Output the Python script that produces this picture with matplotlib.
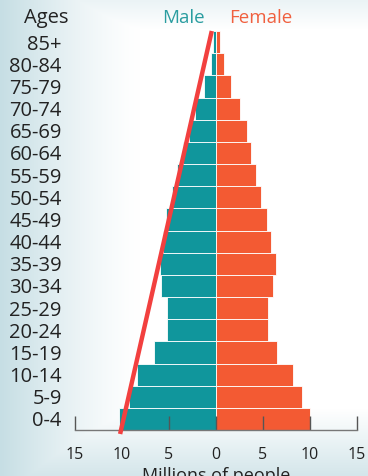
import numpy as np
import matplotlib
matplotlib.use('Agg')
import matplotlib.pyplot as plt

# data
ages = ['0-4', '5-9', '10-14', '15-19', '20-24', '25-29', '30-34', '35-39',
        '40-44', '45-49', '50-54', '55-59', '60-64', '65-69', '70-74',
        '75-79', '80-84', '85+']
male = [10.3, 9.3, 8.4, 6.6, 5.25, 5.25, 5.8, 6.0, 5.6, 5.3, 4.7, 4.2,
        3.5, 2.9, 2.2, 1.3, 0.56, 0.3]
female = [10.0, 9.15, 8.2, 6.5, 5.5, 5.5, 6.05, 6.35, 5.9, 5.45, 4.8, 4.25,
          3.7, 3.3, 2.5, 1.6, 0.8, 0.45]
ticks = [-15, -10, -5, 0, 5, 10, 15]
tick_labels = ['15', '10', '5', '0', '5', '10', '15']
# trend line drawn over the male side (x in millions, y in age rows)
trend_x = [-10.2, -0.45]
trend_y = [-0.68, 17.5]

teal = '#10969c'
orange = '#f35a33'
font = ['Open Sans', 'DejaVu Sans']
plt.rcParams['font.family'] = font

W, H = 368, 476
fig = plt.figure(figsize=(W / 100, H / 100), dpi=100)

# background gradient (light blue-grey on the left and bottom, white centre)
bg = fig.add_axes([0, 0, 1, 1])
xx, yy = np.meshgrid(np.linspace(0, 1, W), np.linspace(0, 1, H))
a = np.clip(1 - xx / 0.38, 0, 1) ** 1.3
a = np.maximum(a, np.clip((yy - 0.86) / 0.14, 0, 1) * 0.75)
a = np.maximum(a, np.clip(1 - yy / 0.06, 0, 1) * 0.35)
tint = np.array([198, 222, 228]) / 255.0
img = 1 - a[..., None] * (1 - tint)
bg.imshow(img, aspect='auto', extent=[0, 1, 1, 0])
bg.axis('off')

ax = fig.add_axes([75 / W, 1 - 430 / H, (357 - 75) / W, (430 - 31) / H])
ax.patch.set_alpha(0)
y = np.arange(len(ages))
ax.barh(y, [-m for m in male], height=1.0, color=teal, edgecolor='white', linewidth=0.6)
ax.barh(y, female, height=1.0, color=orange, edgecolor='white', linewidth=0.6)

ax.plot(trend_x, trend_y, color='#f2403f', lw=3.2, solid_capstyle='butt', clip_on=False, zorder=5)

ax.set_xlim(-15, 15)
ax.set_ylim(-0.5, 17.5)
for s in ['top', 'right', 'left']:
    ax.spines[s].set_visible(False)
ax.spines['bottom'].set_color('#777777')
ax.spines['bottom'].set_linewidth(1.0)
ax.set_xticks(ticks)
ax.set_xticklabels(tick_labels, fontsize=11.5, color='#222222')
ax.tick_params(axis='x', direction='in', length=10, width=1, color='#555555', pad=12)
ax.set_yticks(y)
ax.set_yticklabels(ages, fontsize=14.5, color='#222222')
ax.tick_params(axis='y', left=False, pad=6)

fig.text(68 / W, 1 - 18 / H, 'Ages', ha='right', va='center', fontsize=14.5, color='#222222')
fig.text(183 / W, 1 - 18 / H, 'Male', ha='center', va='center', fontsize=13.5, color='#2a9da0')
fig.text(261 / W, 1 - 18 / H, 'Female', ha='center', va='center', fontsize=13.5, color='#f0603f')
fig.text(216 / W, 1 - 467 / H, 'Millions of people', ha='center', va='top', fontsize=13, color='#222222')

fig.savefig('out.png', dpi=100)
